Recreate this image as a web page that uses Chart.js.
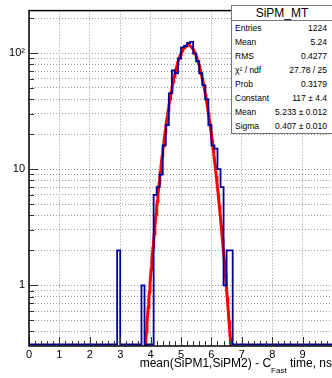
<!DOCTYPE html>
<html>
<head>
<meta charset="utf-8">
<script src="https://cdn.jsdelivr.net/npm/chart.js@4.4.1/dist/chart.umd.min.js"></script>
<style>
  body { margin: 0; background: #fff; }
  #wrap { position: relative; width: 332px; height: 378px; overflow: hidden; font-family: "Liberation Sans", Arial, sans-serif; }
  #c { position: absolute; left: 0; top: 0; }
  #stats { position: absolute; left: 231px; top: 5px; width: 100px; background: #fff; border: 1px solid #777; box-sizing: content-box; }
  #stats .hd { height: 14px; line-height: 14px; text-align: center; font-size: 12px; border-bottom: 1px solid #777; }
  #stats .row { display: flex; justify-content: space-between; height: 14px; line-height: 14px; font-size: 8.5px; padding: 0 5px 0 3px; }
  #xt { position: absolute; right: 0; top: 356px; font-size: 12px; white-space: nowrap; }
  #xt .sub { font-size: 8px; position: relative; top: 6px; }
</style>
</head>
<body>
<div id="wrap">
  <canvas id="c" width="335" height="378"></canvas>
  <div id="stats"></div>
  <div id="xt">mean(SiPM1,SiPM2) - C<span class="sub">Fast</span> time, ns</div>
</div>
<script>
// histogram: 100 bins of 0.1 ns from 0 to 10, only the filled ones listed
const binWidth = 0.1;
const binLow = [2.9, 3.7, 4.1, 4.2, 4.3, 4.4, 4.5, 4.6, 4.7, 4.8, 4.9, 5.0, 5.1, 5.2,
                5.3, 5.4, 5.5, 5.6, 5.7, 5.8, 5.9, 6.0, 6.1, 6.2, 6.3, 6.4, 6.5, 6.6];
const binCount = [2, 1, 6, 7, 9, 16, 24, 45, 71, 67, 90, 112, 115, 122,
                  125, 99, 85, 67, 53, 40, 24, 16, 15, 10, 7, 1, 2, 2];

// gaussian fit result
const fitConst = 117, fitMean = 5.233, fitSigma = 0.407;

// axes
const xMin = 0, xMax = 10;
const yMin = 0.31, yMax = 232;
const yTickValues = [0.4, 0.5, 0.6, 0.7, 0.8, 0.9, 1, 2, 3, 4, 5, 6, 7, 8, 9,
                     10, 20, 30, 40, 50, 60, 70, 80, 90, 100, 200];
const yTickLabels = { 1: '1', 10: '10', 100: '10²' };

// stats box
const statNames = ['Entries', 'Mean', 'RMS', 'χ² / ndf', 'Prob', 'Constant', 'Mean', 'Sigma'];
const statValues = ['1224', '5.24', '0.4277', '27.78 / 25', '0.3179', '117 ± 4.4', '5.233 ± 0.012', '0.407 ± 0.010'];

const stats = document.getElementById('stats');
stats.innerHTML = '<div class="hd">SiPM_MT</div>' +
  statNames.map((n, i) => `<div class="row"><span>${n}</span><span>${statValues[i]}</span></div>`).join('');

// outline of the histogram, empty bins sit on the bottom of the frame
const nBins = Math.round((xMax - xMin) / binWidth);
const full = new Array(nBins).fill(0);
binLow.forEach((lo, i) => { full[Math.round((lo - xMin) / binWidth)] = binCount[i]; });
const outline = [];
full.forEach((c, i) => {
  const lo = xMin + i * binWidth;
  const y = c > 0 ? c : yMin;
  outline.push({ x: lo, y: y }, { x: lo + binWidth, y: y });
});

const fitPts = [];
for (let x = 3.5; x <= 7.0; x += 0.02) {
  fitPts.push({ x: x, y: fitConst * Math.exp(-0.5 * Math.pow((x - fitMean) / fitSigma, 2)) });
}

const frameTicks = {
  id: 'frameTicks',
  afterDatasetsDraw(chart) {
    const { ctx, chartArea: a, scales: { x, y } } = chart;
    ctx.save();
    ctx.strokeStyle = '#333';
    ctx.lineWidth = 1;
    ctx.beginPath();
    y.ticks.forEach(t => {
      const py = Math.round(y.getPixelForValue(t.value)) + 0.5;
      const len = yTickLabels[t.value] ? 9 : 5;
      ctx.moveTo(a.left, py); ctx.lineTo(a.left + len, py);
    });
    for (let i = 0; i <= 50; i++) {
      const px = Math.round(x.getPixelForValue(i * 0.2)) + 0.5;
      const len = i % 5 === 0 ? 9 : 5;
      ctx.moveTo(px, a.bottom); ctx.lineTo(px, a.bottom - len);
    }
    ctx.stroke();
    ctx.strokeStyle = '#000';
    ctx.lineWidth = 1.5;
    ctx.strokeRect(a.left, a.top, a.right - a.left, a.bottom - a.top);
    ctx.restore();
  }
};

new Chart(document.getElementById('c'), {
  type: 'line',
  data: {
    datasets: [
      { data: outline, borderColor: '#000099', borderWidth: 1.8, pointRadius: 0, tension: 0, fill: false },
      { data: fitPts, borderColor: '#ff0000', borderWidth: 3, pointRadius: 0, tension: 0, fill: false, clip: 0 }
    ]
  },
  options: {
    responsive: false,
    animation: false,
    devicePixelRatio: 1,
    layout: { padding: { top: 6, left: 0, right: 0, bottom: 0 } },
    plugins: { legend: { display: false }, tooltip: { enabled: false } },
    scales: {
      x: {
        type: 'linear', min: xMin, max: xMax,
        afterFit: s => { s.height = 32; },
        grid: { color: '#999', drawTicks: false },
        border: { display: false, dash: [1, 2] },
        ticks: {
          stepSize: 1, padding: 2, color: '#000', autoSkip: false, maxRotation: 0,
          font: { family: 'Liberation Sans', size: 11 },
          callback: v => (v < xMax ? String(v) : '')
        }
      },
      y: {
        type: 'logarithmic', min: yMin, max: yMax,
        afterFit: s => { s.width = 29; },
        afterBuildTicks: s => { s.ticks = yTickValues.map(v => ({ value: v })); },
        grid: { color: '#999', drawTicks: false },
        border: { display: false, dash: [1, 2] },
        ticks: {
          padding: 4, color: '#000', autoSkip: false,
          font: { family: 'Liberation Sans', size: 11 },
          callback: v => yTickLabels[v] || ''
        }
      }
    }
  },
  plugins: [frameTicks]
});
</script>
</body>
</html>
